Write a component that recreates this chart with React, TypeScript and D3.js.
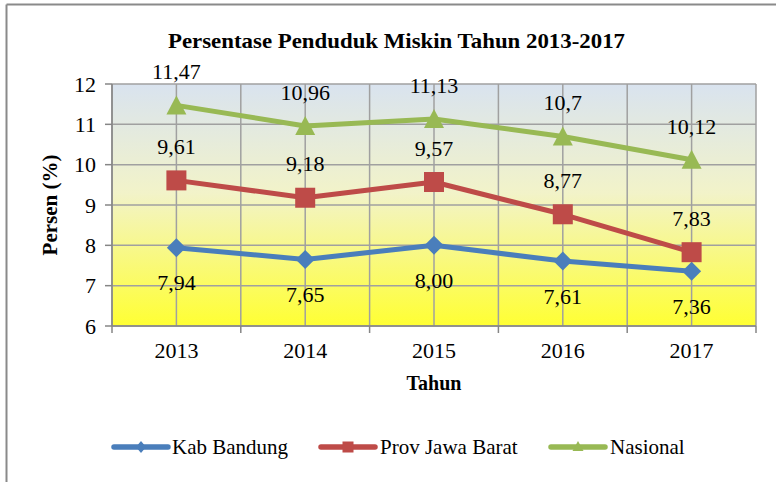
import React from "react";
import * as d3 from "d3";

const years = ["2013", "2014", "2015", "2016", "2017"];
const kabBandung = [7.94, 7.65, 8.0, 7.61, 7.36];
const provJabar = [9.61, 9.18, 9.57, 8.77, 7.83];
const nasional = [11.47, 10.96, 11.13, 10.7, 10.12];
const kabLabels = ["7,94", "7,65", "8,00", "7,61", "7,36"];
const provLabels = ["9,61", "9,18", "9,57", "8,77", "7,83"];
const nasLabels = ["11,47", "10,96", "11,13", "10,7", "10,12"];
const yTicks = [6, 7, 8, 9, 10, 11, 12];
const seriesNames = ["Kab Bandung", "Prov Jawa Barat", "Nasional"];

const W = 776;
const H = 482;
const left = 112;
const right = 756;
const top = 84;
const bottom = 326;
const FONT = "Liberation Serif";

export default function App() {
  const x = d3.scaleBand<string>().domain(years).range([left, right]).padding(0);
  const cx = (y: string) => (x(y) as number) + x.bandwidth() / 2;
  const y = d3.scaleLinear().domain([6, 12]).range([bottom, top]);
  const line = d3
    .line<number>()
    .x((_, i) => cx(years[i]))
    .y((d) => y(d));

  const series = [
    { name: seriesNames[0], data: kabBandung, labels: kabLabels, color: "#4a7ebb", marker: "diamond", off: 35 },
    { name: seriesNames[1], data: provJabar, labels: provLabels, color: "#be4b48", marker: "square", off: -34 },
    { name: seriesNames[2], data: nasional, labels: nasLabels, color: "#98b954", marker: "triangle", off: -34 },
  ];

  const marker = (m: string, px: number, py: number, color: string, key: string) => {
    if (m === "diamond") {
      const s = 9.5;
      return <path key={key} d={`M${px},${py - s}L${px + s},${py}L${px},${py + s}L${px - s},${py}Z`} fill={color} />;
    }
    if (m === "square") {
      const s = 10;
      return <rect key={key} x={px - s} y={py - s} width={2 * s} height={2 * s} fill={color} />;
    }
    const s = 10;
    return <path key={key} d={`M${px},${py - s}L${px + s},${py + 9}L${px - s},${py + 9}Z`} fill={color} />;
  };

  const boundaries = years.map((d) => x(d) as number).concat([right]);
  const legendLine = [114, 321, 551];
  const legendText = [172, 380, 610];
  const LY = 447;

  return (
    <svg width={W} height={H} style={{ position: "absolute", left: 0, top: 0 }}>
      <defs>
        <linearGradient id="bg" x1="0" y1="0" x2="0" y2="1">
          <stop offset="0%" stopColor="#d9e3ef" />
          <stop offset="45%" stopColor="#f2f3c9" />
          <stop offset="100%" stopColor="#ffff33" />
        </linearGradient>
      </defs>
      <rect x={0} y={0} width={W} height={H} fill="#fff" />
      <line x1={6.5} y1={4.5} x2={W} y2={4.5} stroke="#8a8a8a" strokeWidth={2} />
      <line x1={6.5} y1={4.5} x2={6.5} y2={H} stroke="#8a8a8a" strokeWidth={2} />

      <text
        x={168}
        y={48}
        fontSize={21}
        fontWeight="bold"
        fontFamily={FONT}
        textLength={457}
        lengthAdjust="spacingAndGlyphs"
      >
        Persentase Penduduk Miskin Tahun 2013-2017
      </text>

      <rect x={left} y={top} width={right - left} height={bottom - top} fill="url(#bg)" />
      {yTicks.map((t) => (
        <line key={"gy" + t} x1={left} x2={right} y1={y(t)} y2={y(t)} stroke="#a0a0a0" strokeWidth={1.5} />
      ))}
      {boundaries.map((b, i) => (
        <line key={"gb" + i} x1={b} x2={b} y1={top} y2={bottom} stroke="#a0a0a0" strokeWidth={1.5} />
      ))}
      {years.map((d) => (
        <line key={"gc" + d} x1={cx(d)} x2={cx(d)} y1={top} y2={bottom} stroke="#a0a0a0" strokeWidth={1.5} />
      ))}
      <line x1={left} x2={left} y1={top} y2={bottom} stroke="#868686" strokeWidth={1.5} />
      <line x1={left} x2={right} y1={bottom} y2={bottom} stroke="#868686" strokeWidth={1.5} />
      {yTicks.map((t) => (
        <line key={"ty" + t} x1={left - 7} x2={left} y1={y(t)} y2={y(t)} stroke="#868686" strokeWidth={1.5} />
      ))}
      {boundaries.map((b, i) => (
        <line key={"tx" + i} x1={b} x2={b} y1={bottom} y2={bottom + 7} stroke="#868686" strokeWidth={1.5} />
      ))}
      {yTicks.map((t) => (
        <text key={"yl" + t} x={96} y={y(t)} dy="0.35em" textAnchor="end" fontSize={22} fontFamily={FONT}>
          {t}
        </text>
      ))}
      {years.map((d) => (
        <text key={"xl" + d} x={cx(d)} y={350} dy="0.35em" textAnchor="middle" fontSize={22} fontFamily={FONT}>
          {d}
        </text>
      ))}
      <text x={434} y={383} dy="0.35em" textAnchor="middle" fontSize={20} fontWeight="bold" fontFamily={FONT}>
        Tahun
      </text>
      <text
        transform={`translate(50,${(top + bottom) / 2}) rotate(-90)`}
        dy="0.35em"
        textAnchor="middle"
        fontSize={21}
        fontWeight="bold"
        fontFamily={FONT}
      >
        Persen (%)
      </text>

      {series.map((s) => (
        <g key={s.name}>
          <path d={line(s.data) as string} fill="none" stroke={s.color} strokeWidth={5} strokeLinejoin="round" />
          {s.data.map((v, i) => marker(s.marker, cx(years[i]), y(v), s.color, s.name + i))}
        </g>
      ))}
      {series.map((s) =>
        s.data.map((v, i) => (
          <text
            key={"dl" + s.name + i}
            x={cx(years[i])}
            y={y(v) + s.off}
            dy="0.35em"
            textAnchor="middle"
            fontSize={22}
            fontFamily={FONT}
          >
            {s.labels[i]}
          </text>
        ))
      )}

      {series.map((s, i) => {
        const lx = legendLine[i];
        const mx = lx + 27;
        return (
          <g key={"lg" + s.name}>
            <line x1={lx} x2={lx + 54} y1={LY} y2={LY} stroke={s.color} strokeWidth={5.5} strokeLinecap="round" />
            {s.marker === "diamond" && (
              <path d={`M${mx},${LY - 6}L${mx + 5},${LY}L${mx},${LY + 6}L${mx - 5},${LY}Z`} fill={s.color} />
            )}
            {s.marker === "square" && <rect x={mx - 5.5} y={LY - 5.5} width={11} height={11} fill={s.color} />}
            {s.marker === "triangle" && (
              <path d={`M${mx},${LY - 6}L${mx + 5.5},${LY + 4}L${mx - 5.5},${LY + 4}Z`} fill={s.color} />
            )}
            <text x={legendText[i]} y={LY} dy="0.35em" fontSize={21} fontFamily={FONT}>
              {s.name}
            </text>
          </g>
        );
      })}
    </svg>
  );
}
